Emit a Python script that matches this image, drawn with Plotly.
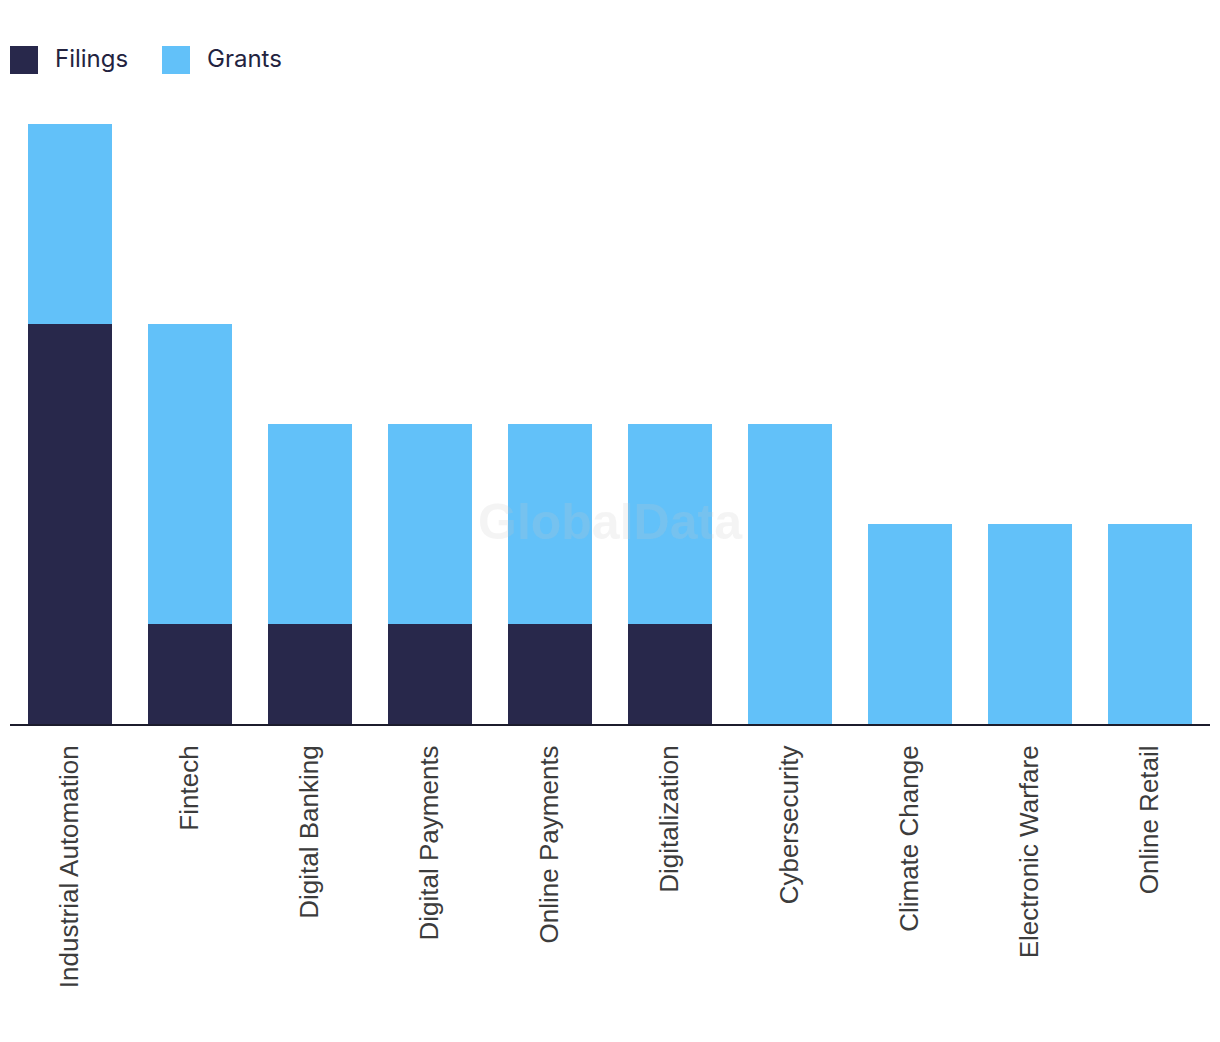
import plotly.graph_objects as go

categories = ["Industrial Automation", "Fintech", "Digital Banking", "Digital Payments",
              "Online Payments", "Digitalization", "Cybersecurity", "Climate Change",
              "Electronic Warfare", "Online Retail"]
filings = [4, 1, 1, 1, 1, 1, 0, 0, 0, 0]
grants = [2, 3, 2, 2, 2, 2, 3, 2, 2, 2]

DARK = "#28284b"
LIGHT = "#62c1f9"
W, H = 1220, 1042

fig = go.Figure()
fig.add_trace(go.Bar(x=categories, y=filings, name="Filings", marker_color=DARK,
                     marker_line_width=0, showlegend=False))
fig.add_trace(go.Bar(x=categories, y=grants, name="Grants", marker_color=LIGHT,
                     marker_line_width=0, showlegend=False))

# custom legend (paper coords: plot domain spans 1200 x 600 px)
legend_items = [("Filings", DARK, 10), ("Grants", LIGHT, 162)]
for name, color, x0 in legend_items:
    fig.add_shape(type="rect", xref="paper", yref="paper",
                  x0=(x0 - 10) / 1200, x1=(x0 + 18) / 1200,
                  y0=(724 - 74) / 600, y1=(724 - 46) / 600,
                  fillcolor=color, line_width=0)
    fig.add_annotation(text=name, xref="paper", yref="paper",
                       x=(x0 + 33) / 1200, y=(724 - 59) / 600,
                       xanchor="left", yanchor="middle", showarrow=False,
                       font=dict(family="Inter", size=24, color="#23233f"))

fig.add_annotation(text="<b>GlobalData</b>", xref="paper", yref="paper",
                   x=0.5, y=(724 - 522) / 600, showarrow=False,
                   font=dict(family="Liberation Sans", size=50, color="rgba(200,200,200,0.2)"))

fig.update_layout(
    width=W, height=H, barmode="stack", bargap=0.3,
    plot_bgcolor="white", paper_bgcolor="white",
    margin=dict(l=2, r=18, t=116, b=326),
    xaxis=dict(showline=True, linecolor="#1c1c2c", linewidth=2, tickangle=-90,
               ticks="", ticklabelstandoff=9,
               tickfont=dict(family="Liberation Sans", size=26, color="#3c3c3c"),
               showgrid=False, fixedrange=True),
    yaxis=dict(range=[0, 6], visible=False, showgrid=False, fixedrange=True),
)

fig.write_html("out.html")
